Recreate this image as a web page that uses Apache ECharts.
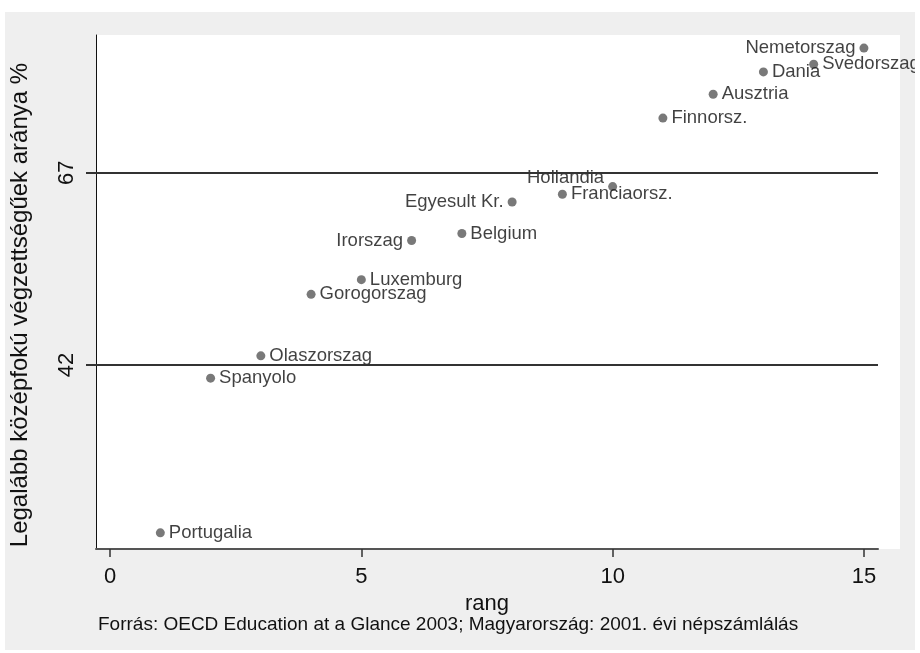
<!DOCTYPE html>
<html>
<head>
<meta charset="utf-8">
<script src="https://cdn.jsdelivr.net/npm/echarts@6/dist/echarts.min.js"></script>
<style>
    html, body { margin: 0; padding: 0; background: #fff; }
    #chart { position: absolute; left: 5px; top: 12px; width: 910px; height: 638px; background: #efefef; }
</style>
</head>
<body>
<div id="chart"></div>
<script>
    // adatok
    var countries = ['Portugalia', 'Spanyolo', 'Olaszorszag', 'Gorogorszag', 'Luxemburg', 'Irorszag', 'Belgium',
        'Egyesult Kr.', 'Franciaorsz.', 'Hollandia', 'Finnorsz.', 'Ausztria', 'Dania', 'Svedorszag', 'Nemetorszag'];
    var rang = [1, 2, 3, 4, 5, 6, 7, 8, 9, 10, 11, 12, 13, 14, 15];
    var share = [20.2, 40.3, 43.2, 51.2, 53.1, 58.2, 59.1, 63.2, 64.2, 65.2, 74.1, 77.2, 80.1, 81.1, 83.2];
    var labelSide = ['right', 'right', 'right', 'right', 'right', 'left', 'right', 'left', 'right', 'left',
        'right', 'right', 'right', 'right', 'left'];
    var refLines = [42, 67];
    var xTicks = [0, 5, 10, 15];
    var source = 'Forrás: OECD Education at a Glance 2003; Magyarország: 2001. évi népszámlálás';

    var font = "'Liberation Sans', Arial, sans-serif";

    function setPoints () {
        let arr = [];
        for (let i = 0; i < rang.length; i++) {
            let obj = {
                name: countries[i],
                value: [rang[i], share[i]],
                label: { position: labelSide[i] }
            };
            if (countries[i] === 'Hollandia') {
                obj.label.offset = [0, -9];
            }
            arr.push(obj);
        }
        return arr;
    }

    let option = {
        animation: false,
        grid: {
            left: 91,
            top: 23,
            width: 782,
            height: 514,
            outerBoundsMode: 'none',
            containLabel: false,
            show: true,
            backgroundColor: '#fff',
            borderWidth: 0
        },
        xAxis: {
            type: 'value',
            min: -0.28,
            max: 15.28,
            name: 'rang',
            nameLocation: 'middle',
            nameGap: 40,
            nameTextStyle: { color: '#111', fontSize: 22, fontFamily: font },
            axisLine: { show: true, onZero: false, lineStyle: { color: '#555', width: 2 } },
            axisTick: { show: true, customValues: xTicks, length: 8, lineStyle: { color: '#333', width: 1.5 } },
            axisLabel: { customValues: xTicks, color: '#111', fontSize: 22, fontFamily: font, margin: 17 },
            splitLine: { show: false }
        },
        yAxis: {
            type: 'value',
            min: 18.1,
            max: 84.9,
            name: 'Legalább középfokú végzettségűek aránya %',
            nameLocation: 'middle',
            nameRotate: 90,
            nameGap: 64,
            nameTextStyle: { color: '#111', fontSize: 24, fontFamily: font, padding: [0, 26, 0, 0] },
            axisLine: { show: true, onZero: false, lineStyle: { color: '#111', width: 1 } },
            axisTick: { show: true, customValues: refLines, length: 10, lineStyle: { color: '#333', width: 2 } },
            axisLabel: { customValues: refLines, rotate: 90, color: '#111', fontSize: 22, fontFamily: font, margin: 18 },
            splitLine: { show: false }
        },
        graphic: [{
            type: 'rect',
            z: -1,
            shape: { x: 872, y: 23, width: 23, height: 514 },
            style: { fill: '#fff' }
        }, {
            type: 'text',
            left: 93,
            top: 603,
            style: { text: source, fill: '#111', fontSize: 19, fontFamily: font }
        }],
        series: [{
            type: 'scatter',
            symbol: 'circle',
            symbolSize: 9,
            itemStyle: { color: '#585858' },
            label: {
                show: true,
                formatter: '{b}',
                color: '#111',
                fontSize: 18.5,
                fontFamily: font,
                distance: 4
            },
            markLine: {
                silent: true,
                symbol: 'none',
                label: { show: false },
                lineStyle: { color: '#333', width: 2, type: 'solid' },
                data: refLines.map(function (v) { return { yAxis: v }; })
            },
            data: setPoints()
        }]
    };

    let myChart = echarts.init(document.getElementById('chart'));
    myChart.setOption(option);
</script>
</body>
</html>
